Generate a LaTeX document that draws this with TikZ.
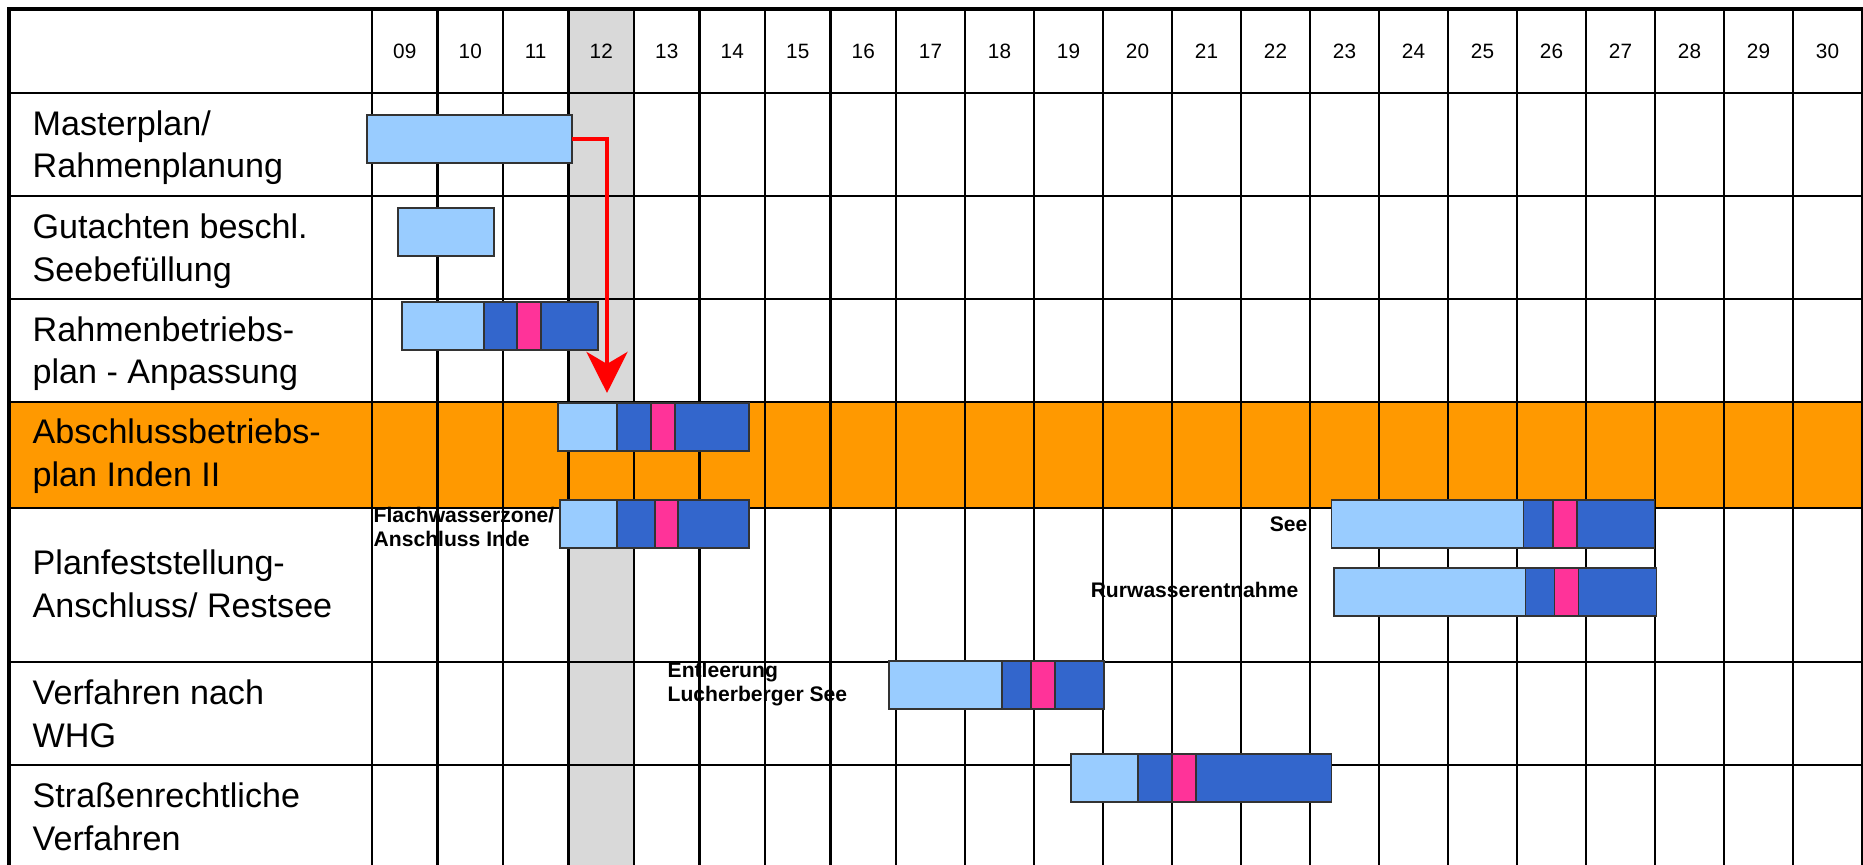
\documentclass[tikz,border=0pt]{standalone}
\usepackage{fontspec}
\setmainfont{Liberation Sans}
\usepackage{tikz}
\usetikzlibrary{arrows.meta}
\usepackage{xcolor}
\definecolor{hellblau}{HTML}{99CCFF}
\definecolor{dunkelblau}{HTML}{3366CC}
\definecolor{pinkbar}{HTML}{FF3399}
\definecolor{orangerow}{HTML}{FF9900}
\definecolor{heute}{HTML}{D9D9D9}
\tikzset{
  gitter/.style={line width=0.75pt},
  rahmen/.style={line width=1.3pt, line join=miter},
  barseg/.style={draw=black!80, line width=0.45pt, minimum height=0.48cm, inner sep=0pt, outer sep=0pt, anchor=north west},
  zeile/.style={anchor=base west, align=left, inner sep=0pt, font=\fontsize{9.7}{12.1}\selectfont},
  jahr/.style={inner sep=0pt, font=\fontsize{5.9}{7}\selectfont},
  notiz/.style={align=left, inner sep=0pt, font=\bfseries\fontsize{6}{7.1}\selectfont},
  pfeil/.style={draw=red, line width=1.28pt, line join=miter, -{Stealth[length=0.41cm, width=0.41cm, inset=0.12cm]}}
}
\newcommand{\seg}[5]{\node[barseg, fill=#2, minimum width={(#4-#3)*0.01cm}] (#1) at (#3,#5) {};}
\newcommand{\phasebar}[7]{\seg{#1a}{hellblau}{#3}{#4}{#2}
  \seg{#1b}{dunkelblau}{#4}{#5}{#2}
  \seg{#1c}{pinkbar}{#5}{#6}{#2}
  \seg{#1d}{dunkelblau}{#6}{#7}{#2}}

\begin{document}
\begin{tikzpicture}[x=0.01cm, y=-0.01cm]
\useasboundingbox (0,0) rectangle (1863,865);
% column 12 and the orange row
\fill[heute] (569.5,9) rectangle (634,865);
\fill[orangerow] (9,402) rectangle (1862,508);
% small notes (lines run over them), anchored on their last line
\draw (373,547) node[notiz, anchor=base west](flach) {Flachwasserzone/\\Anschluss Inde} ;
  \draw (1308,531.5) node[notiz, anchor=base east](see) {See} ;
    \draw (1299,598) node[notiz, anchor=base east](rur) {Rurwasserentnahme} ;
      \draw (667,702) node[notiz, anchor=base west](entl) {Entleerung\\Lucherberger See} ;
% grid
\foreach \y in {93,196,299,402,508,662,765}
  \draw[gitter] (9,\y) -- (1862,\y);
\draw[gitter] (372,9) -- (372,865);
\foreach \jahr [count=\i from 0] in {09,10,11,12,13,14,15,16,17,18,19,20,21,22,23,24,25,26,27,28,29,30} {
  \pgfmathsetmacro\xl{\i<9 ? 372+65.5*\i : 896+69*(\i-8)}
  \pgfmathsetmacro\xr{\i<8 ? 372+65.5*(\i+1) : 896+69*(\i-7)}
  \draw[gitter] (\xr,9) -- (\xr,865);
  \draw ({(\xl+\xr)/2},51) node[jahr](j\jahr) {\jahr} ;
}
% row labels, anchored on their last line
\draw (32,178) node[zeile](masterplan) {Masterplan/\\Rahmenplanung} ;
  \draw (32,281.5) node[zeile](gutachten) {Gutachten beschl.\\Seebefüllung} ;
    \draw (32,384) node[zeile](rbp) {Rahmenbetriebs-\\plan - Anpassung} ;
      \draw (32,486.5) node[zeile](abp) {Abschlussbetriebs-\\plan Inden II} ;
        \draw (32,617.5) node[zeile](pfv) {Planfeststellung-\\Anschluss/ Restsee} ;
          \draw (32,747.5) node[zeile](whg) {Verfahren nach\\WHG} ;
            \draw (32,850.5) node[zeile](strasse) {Straßenrechtliche\\Verfahren} ;
% bars
\seg{mp}{hellblau}{367}{572}{115}
\seg{gb}{hellblau}{398}{494}{208}
\phasebar{rb}{302}{402}{484}{517}{541}{598}
\phasebar{ab}{403}{558}{617}{651}{675}{749}
\phasebar{fw}{500}{560}{617}{655}{678}{749}
\phasebar{sb}{500}{1331.5}{1523.5}{1553}{1577}{1654.5}
\phasebar{rw}{568}{1334}{1525.5}{1554.5}{1578.5}{1656.5}
\phasebar{el}{661}{889}{1002}{1031}{1055}{1104}
\phasebar{sr}{754}{1071}{1138}{1172}{1196}{1331.5}
% arrow
\coordinate (ziel) at (607,393);
\draw[pfeil] (mp.east) -| (ziel);
% frame
\draw[rahmen] (9,865) -- (9,9) -- (1863,9);
\end{tikzpicture}
\end{document}
